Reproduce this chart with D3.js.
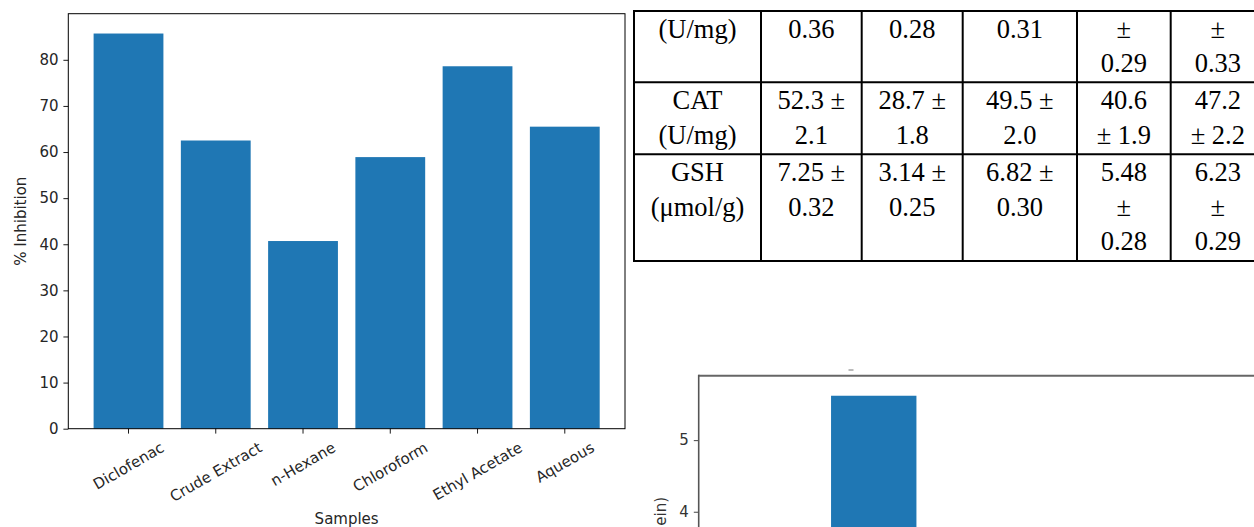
<!DOCTYPE html>
<html>
<head>
<meta charset="utf-8">
<script src="https://cdn.jsdelivr.net/npm/d3@7"></script>
<style>
  body { margin: 0; background: #fff; }
  svg { display: block; }
</style>
</head>
<body>
<svg id="chart"></svg>
<script>
// left chart: % inhibition per sample
const samples = ["Diclofenac", "Crude Extract", "n-Hexane", "Chloroform", "Ethyl Acetate", "Aqueous"];
const inhibition = [85.7, 62.5, 40.7, 58.9, 78.6, 65.5];
const inhibitionTicks = [0, 10, 20, 30, 40, 50, 60, 70, 80];

// table (cut off at the top in the picture)
const tableLabels = [["(U/mg)"], ["CAT", "(U/mg)"], ["GSH", "(μmol/g)"]];
const tableValues = [
  [["0.36"], ["0.28"], ["0.31"], ["±", "0.29"], ["±", "0.33"]],
  [["52.3 ±", "2.1"], ["28.7 ±", "1.8"], ["49.5 ±", "2.0"], ["40.6", "± 1.9"], ["47.2", "± 2.2"]],
  [["7.25 ±", "0.32"], ["3.14 ±", "0.25"], ["6.82 ±", "0.30"], ["5.48", "±", "0.28"], ["6.23", "±", "0.29"]]
];

// bottom right chart, only the top of it is visible
const lowerSamples = ["Diclofenac"];
const lowerValues = [5.62];
const lowerTicks = [4, 5];
const lowerLabel = "ein)";   // visible end of the cropped y label

const W = 1254, H = 527;
const svg = d3.select("#chart").attr("width", W).attr("height", H);

const tickLen = 4.9, tickPad = 4.9;
const fontSans = "DejaVu Sans, sans-serif";
const fs = "15px";

// ---------- left bar chart ----------
const m = {left: 68.3, right: 625, top: 13.7, bottom: 428.7};

const x = d3.scaleBand()
    .domain(samples)
    .range([m.left, m.right])
    .paddingInner(0.2)
    .paddingOuter(0.29);

const y = d3.scaleLinear()
    .domain([0, 90])
    .range([m.bottom, m.top]);

svg.append("g")
    .selectAll("rect")
    .data(samples)
    .join("rect")
      .attr("x", d => x(d))
      .attr("y", (d, i) => y(inhibition[i]))
      .attr("width", x.bandwidth())
      .attr("height", (d, i) => y(0) - y(inhibition[i]))
      .attr("fill", "#1f77b4");

const yAxis = svg.append("g")
    .attr("transform", `translate(${m.left},0)`)
    .call(d3.axisLeft(y).tickValues(inhibitionTicks).tickSize(tickLen).tickPadding(tickPad));
yAxis.select(".domain").remove();
yAxis.selectAll("text").style("font-family", fontSans).style("font-size", fs).attr("fill", "#262626");
yAxis.selectAll("line").attr("stroke", "#000").attr("stroke-width", 0.9);

const xAxis = svg.append("g")
    .attr("transform", `translate(0,${m.bottom})`)
    .call(d3.axisBottom(x).tickSize(tickLen));
xAxis.select(".domain").remove();
xAxis.selectAll("line").attr("stroke", "#000").attr("stroke-width", 0.9);
xAxis.selectAll("text")
    .style("font-family", fontSans).style("font-size", fs).attr("fill", "#262626")
    .attr("y", 0).attr("dy", "0.35em").attr("text-anchor", "middle")
    .attr("transform", function() {
        const w = this.getComputedTextLength();
        const h = 17.5;
        const bh = w * 0.5 + h * 0.866;
        return `translate(0,${tickLen + tickPad + bh / 2}) rotate(-30)`;
    });

svg.append("rect")
    .attr("x", m.left).attr("y", m.top)
    .attr("width", m.right - m.left).attr("height", m.bottom - m.top)
    .attr("fill", "none").attr("stroke", "#000").attr("stroke-width", 1);

svg.append("text")
    .attr("transform", `translate(21,${(m.top + m.bottom) / 2}) rotate(-90)`)
    .attr("text-anchor", "middle").attr("dominant-baseline", "central")
    .style("font-family", fontSans).style("font-size", fs).attr("fill", "#262626")
    .text("% Inhibition");

svg.append("text")
    .attr("x", (m.left + m.right) / 2).attr("y", 524)
    .attr("text-anchor", "middle")
    .style("font-family", fontSans).style("font-size", fs).attr("fill", "#262626")
    .text("Samples");

// ---------- table ----------
const colEdges = [634, 761, 861.7, 962.7, 1077, 1170.7, 1265];
const rowEdges = [11, 82.3, 154.3, 261];
const lineStep = 34.4;

const table = svg.append("g");

table.selectAll("line.h")
    .data(rowEdges)
    .join("line")
      .attr("class", "h")
      .attr("x1", colEdges[0] - 1).attr("x2", W + 5)
      .attr("y1", d => d).attr("y2", d => d)
      .attr("stroke", "#000").attr("stroke-width", 2);

table.selectAll("line.v")
    .data(colEdges)
    .join("line")
      .attr("class", "v")
      .attr("x1", d => d).attr("x2", d => d)
      .attr("y1", rowEdges[0]).attr("y2", rowEdges[rowEdges.length - 1])
      .attr("stroke", "#000").attr("stroke-width", 2);

const cells = [];
tableLabels.forEach((lab, r) => {
    [lab].concat(tableValues[r]).forEach((lines, c) => {
        cells.push({r, c, lines});
    });
});

table.selectAll("text")
    .data(cells)
    .join("text")
      .attr("text-anchor", "middle")
      .style("font-family", "Liberation Serif, Times New Roman, serif")
      .style("font-size", "26.5px")
      .attr("fill", "#000")
      .each(function(d) {
          const cx = (colEdges[d.c] + colEdges[d.c + 1]) / 2;
          d3.select(this).selectAll("tspan")
              .data(d.lines)
              .join("tspan")
                .attr("x", cx)
                .attr("y", (t, i) => rowEdges[d.r] + 27 + i * lineStep)
                .text(t => t);
      });

// ---------- lower right chart (cropped) ----------
const m2 = {left: 698.7, top: 375.7};

const x2 = d3.scaleLinear()
    .domain([-1.64, 3.9])
    .range([m2.left, 1290]);

const y2 = d3.scaleLinear()
    .domain([0, 5.9])
    .range([m2.top + 5.9 * 71.6, m2.top]);

svg.append("g")
    .selectAll("rect")
    .data(lowerSamples)
    .join("rect")
      .attr("x", (d, i) => x2(i - 0.4))
      .attr("y", (d, i) => y2(lowerValues[i]))
      .attr("width", x2(0.4) - x2(-0.4))
      .attr("height", (d, i) => y2(0) - y2(lowerValues[i]))
      .attr("fill", "#1f77b4");

const y2Axis = svg.append("g")
    .attr("transform", `translate(${m2.left},0)`)
    .call(d3.axisLeft(y2).tickValues(lowerTicks).tickFormat(d3.format("d")).tickSize(tickLen).tickPadding(tickPad));
y2Axis.select(".domain").remove();
y2Axis.selectAll("text").style("font-family", fontSans).style("font-size", fs).attr("fill", "#333");
y2Axis.selectAll("line").attr("stroke", "#444").attr("stroke-width", 1);

svg.append("line")
    .attr("x1", m2.left).attr("x2", W + 5)
    .attr("y1", m2.top).attr("y2", m2.top)
    .attr("stroke", "#666").attr("stroke-width", 2);
svg.append("line")
    .attr("x1", m2.left).attr("x2", m2.left)
    .attr("y1", m2.top - 1).attr("y2", H + 5)
    .attr("stroke", "#555").attr("stroke-width", 1.6);

// tiny remnant of the cut-off title
svg.append("line")
    .attr("x1", 848.5).attr("x2", 853.5)
    .attr("y1", 370).attr("y2", 370)
    .attr("stroke", "#777").attr("stroke-width", 1);

svg.append("text")
    .attr("transform", `translate(661,497) rotate(-90)`)
    .attr("text-anchor", "end").attr("dominant-baseline", "central")
    .style("font-family", fontSans).style("font-size", fs).attr("fill", "#333")
    .text(lowerLabel);
</script>
</body>
</html>
